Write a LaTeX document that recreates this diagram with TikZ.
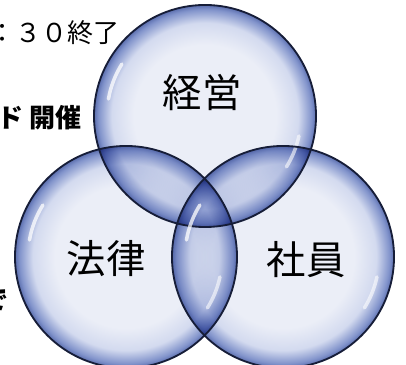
\documentclass[tikz,border=0pt]{standalone}
\usepackage{fontspec}
\usepackage{tikz}
\usetikzlibrary{positioning}
\newfontfamily\jpfont{Noto Sans CJK JP}
\definecolor{bubcenter}{HTML}{EBEEF7}
\definecolor{bubmid}{HTML}{D3DAEF}
\definecolor{bubedge}{HTML}{8193CB}
\definecolor{bubdeep}{HTML}{5B6EAE}
\definecolor{bubrim}{HTML}{161D38}
\pgfdeclareradialshading{bubble}{\pgfpoint{0bp}{0bp}}{color(0bp)=(bubcenter); color(16bp)=(bubcenter); color(21bp)=(bubmid); color(24bp)=(bubedge); color(25bp)=(bubdeep); color(50bp)=(bubdeep)}

\begin{document}
\begin{tikzpicture}[x = 0.025cm, y = 0.025cm,
	ball/.style = {circle, minimum size = 5.55cm, inner sep = 0pt, shading = bubble},
	ring/.style = {circle, minimum size = 5.55cm, inner sep = 0pt, draw = bubrim, line width = 1.3pt},
	glint/.style = {white, line width = 2.5pt, line cap = round, opacity = 0.75},
	big/.style = {inner sep = 0pt, font = \jpfont\fontsize{28}{28}\selectfont},
	side/.style = {inner sep = 0pt, anchor = east, font = \jpfont\fontsize{18.5}{18.5}\selectfont}]
			\useasboundingbox (0, 0) rectangle (406, 365);
			
			\begin{scope}[blend group = multiply]
				\node [ball] (keiei) at (205, 249) {};
				\node [ball] (houritsu) at (126, 108) {};
				\node [ball] (shain) at (283, 108) {};
			\end{scope}
			
			\foreach \c in {keiei, houritsu, shain} {
				\draw [glint] (\c) ++(148:2.45cm) arc (148:170:2.45cm);
				\draw [glint, opacity = 0.6] (\c) ++(-12:2.4cm) arc (-12:-32:2.4cm);
				\node [ring] (\c-ring) at (\c) {};
			}
			
			\node [big] (keiei-t) at (202, 272) {経営};
			\node [big] (houritsu-t) at (106, 106) {法律};
			\node [big] (shain-t) at (306, 105) {社員};
			
			\node [side] (owari) at (120, 332) {：３０終了};
			\node [side, font = \jpfont\bfseries\fontsize{18.5}{18.5}\selectfont] (kaisai) at (82, 247) {ド 開催};
			\node [side, font = \jpfont\bfseries\fontsize{18.5}{18.5}\selectfont] (de) at (9, 65) {で};
		\end{tikzpicture}
\end{document}
